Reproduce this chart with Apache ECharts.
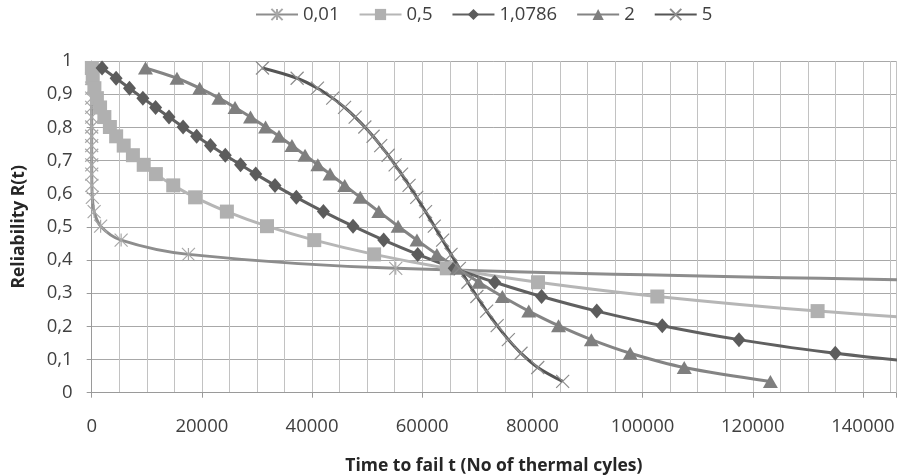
<!DOCTYPE html>
<html>
<head>
<meta charset="utf-8">
<script src="https://cdn.jsdelivr.net/npm/echarts@6/dist/echarts.min.js"></script>
<style>
html,body{margin:0;padding:0;background:#fff;}
#chart{width:897px;height:476px;}
</style>
</head>
<body>
<div id="chart"></div>
<script>
// Series names (legend)
const seriesNames = ['0,01', '0,5', '1,0786', '2', '5'];
// Reliability levels at which markers sit
const rLevels = [0.979,0.948,0.918,0.888,0.860,0.831,0.801,0.773,0.745,0.716,0.687,0.659,0.625,0.589,0.546,0.502,0.460,0.417,0.375,0.333,0.290,0.246,0.202,0.160,0.119,0.076,0.034];
// Time to fail for each series at those levels
const t001   = [0,0,0,0,0,0,0,0,0.3,1,4,11,35,116,442,1620,5340,17560,55190,173240];
const t05    = [30,190,490,945,1520,2300,3300,4440,5810,7480,9440,11650,14800,18770,24540,31820,40400,51260,64460,81010,102670,131770,171410];
const t10786 = [1880,4430,6860,9290,11600,14030,16590,19050,21560,24250,27020,29780,33270,37150,42060,47440,53000,59180,65810,73170,81660,91680,103570,117500,134980,161140,207310];
const t2     = [9760,15480,19600,23090,26020,28830,31560,34000,36350,38730,41050,43270,45930,48750,52120,55620,59040,62660,66360,70260,74540,79340,84740,90700,97750,107560,123200];
const t5     = [31000,37290,40980,43750,45900,47820,49580,51080,52460,53810,55080,56250,57610,59000,60600,62190,63700,65230,66740,68290,69920,71690,73600,75630,77930,80970,85490];
// Axis ticks
const xTickStep = 20000;
const xGridStep = 5000;
const xMax = 146000;
const yTickStep = 0.1;

function pairs(ts) { return ts.map((t, i) => [t, rLevels[i]]); }

const FONT = '"Open Sans", "Liberation Sans", sans-serif';
const crossPath = 'path://M0,0L10,10M10,0L0,10';
const starPath = 'path://M0,0L10,10M10,0L0,10M5,0L5,10';

const chart = echarts.init(document.getElementById('chart'), null, {renderer: 'canvas'});
const option = {
  animation: false,
  backgroundColor: '#ffffff',
  textStyle: {fontFamily: FONT},
  legend: {
    left: 255, top: 5, padding: 0,
    itemWidth: 42, itemHeight: 14, itemGap: 19,
    textStyle: {fontFamily: FONT, fontSize: 18.5, color: '#404040'},
    data: seriesNames
  },
  grid: {left: 91.7, top: 61, right: 1, bottom: 83.3, containLabel: false, outerBoundsMode: 'none'},
  xAxis: [{
    type: 'value', min: 0, max: xMax, interval: xGridStep,
    axisLine: {show: true, lineStyle: {color: '#9a9a9a', width: 1}},
    axisTick: {show: false},
    axisLabel: {show: false},
    splitLine: {show: true, lineStyle: {color: '#c2c2c2', width: 1}}
  }, {
    type: 'value', min: 0, max: xMax, interval: xTickStep, position: 'bottom',
    name: 'Time to fail t (No of thermal cyles)', nameLocation: 'middle', nameGap: 64,
    nameTextStyle: {fontFamily: FONT, fontSize: 17.5, fontWeight: 'bold', color: '#262626'},
    axisLine: {show: false},
    axisTick: {show: true, length: 5, inside: false, lineStyle: {color: '#9a9a9a'}},
    axisLabel: {margin: 25, fontFamily: FONT, fontSize: 18.5, color: '#404040',
      formatter: v => (v % xTickStep === 0 ? String(v) : '')},
    splitLine: {show: false}
  }],
  yAxis: {
    type: 'value', min: 0, max: 1, interval: yTickStep,
    name: 'Reliability R(t)', nameLocation: 'middle', nameGap: 64,
    nameTextStyle: {fontFamily: FONT, fontSize: 17.5, fontWeight: 'bold', color: '#262626'},
    axisLine: {show: true, lineStyle: {color: '#9a9a9a', width: 1}},
    axisTick: {show: true, length: 5, inside: false, lineStyle: {color: '#9a9a9a'}},
    axisLabel: {margin: 19, fontFamily: FONT, fontSize: 18.5, color: '#404040',
      formatter: v => (v === 0 ? '0' : (v >= 0.999 ? '1' : v.toFixed(1).replace('.', ',')))},
    splitLine: {show: true, lineStyle: {color: '#a8a8a8', width: 1}}
  },
  series: [
    {name: seriesNames[0], type: 'line', xAxisIndex: 0, data: pairs(t001), smooth: 0.35, clip: true,
     symbol: starPath, symbolSize: 13,
     lineStyle: {color: '#8d8d8d', width: 3},
     itemStyle: {color: 'rgba(0,0,0,0)', borderColor: '#a8a8a8', borderWidth: 1.2}},
    {name: seriesNames[1], type: 'line', xAxisIndex: 0, data: pairs(t05), smooth: 0.35, clip: true,
     symbol: 'rect', symbolSize: 14,
     lineStyle: {color: '#b6b6b6', width: 3},
     itemStyle: {color: '#b0b0b0'}},
    {name: seriesNames[2], type: 'line', xAxisIndex: 0, data: pairs(t10786), smooth: 0.35, clip: true,
     symbol: 'diamond', symbolSize: [13, 15],
     lineStyle: {color: '#606060', width: 3},
     itemStyle: {color: '#5c5c5c'}},
    {name: seriesNames[3], type: 'line', xAxisIndex: 0, data: pairs(t2), smooth: 0.35, clip: true,
     symbol: 'triangle', symbolSize: [15, 13],
     lineStyle: {color: '#848484', width: 3},
     itemStyle: {color: '#7f7f7f'}},
    {name: seriesNames[4], type: 'line', xAxisIndex: 0, data: pairs(t5), smooth: 0.35, clip: true,
     symbol: crossPath, symbolSize: 13,
     lineStyle: {color: '#555555', width: 3},
     itemStyle: {color: 'rgba(0,0,0,0)', borderColor: '#8c8c8c', borderWidth: 1.2}}
  ]
};
chart.setOption(option);
</script>
</body>
</html>
